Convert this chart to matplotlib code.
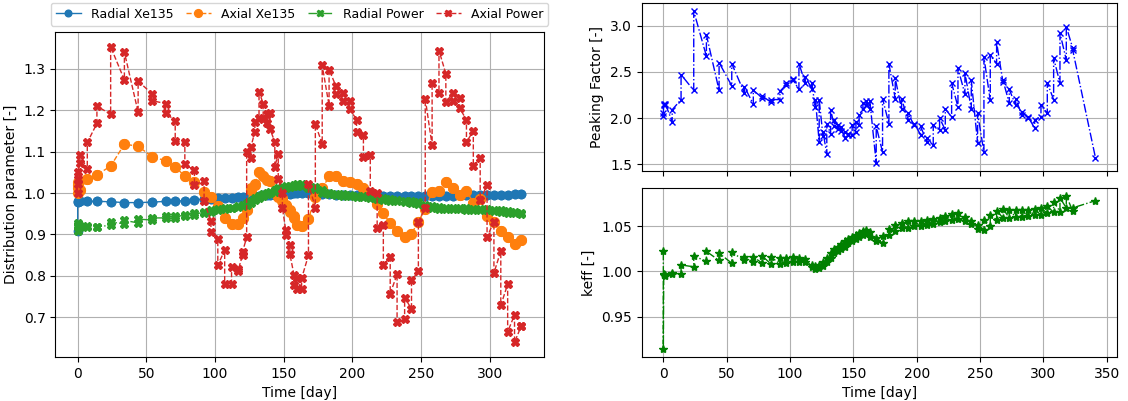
import numpy as np
import matplotlib.pyplot as plt

# burnup step times [day]; every step carries two values (start / end of step)
steps = [0, 0.3, 1.7, 7, 14, 24, 34, 44, 54, 64, 71, 78, 85, 92, 97, 102, 107, 112,
         117, 120, 123, 126, 129, 132, 135, 137.5, 140, 143.5, 146, 149, 152, 154.5,
         157.5, 160, 163, 168, 173, 178, 183, 188, 193, 198, 203, 208, 213, 218, 222.5,
         227.5, 232.5, 238, 243, 248, 253, 258, 263, 268, 273, 278, 283, 288, 293, 298,
         303, 308, 313, 318, 323]
last_day = 341

radial_xe = [(0.909, 0.979), (0.979, 0.980), (0.980, 0.980), (0.980, 0.980), (0.980, 0.980),
             (0.979, 0.979), (0.977, 0.977), (0.977, 0.977), (0.978, 0.978), (0.980, 0.980),
             (0.980, 0.980), (0.982, 0.982), (0.984, 0.984), (0.985, 0.985), (0.986, 0.986),
             (0.987, 0.987), (0.988, 0.988), (0.989, 0.989), (0.990, 0.990), (0.990, 0.990),
             (0.991, 0.991), (0.992, 0.992), (0.993, 0.993), (0.994, 0.994), (0.995, 0.995),
             (0.995, 0.995), (0.996, 0.996), (0.996, 0.996), (0.997, 0.997), (0.997, 0.997),
             (0.998, 0.998), (0.998, 0.998), (0.999, 0.999), (0.999, 0.999), (1.000, 1.000),
             (0.999, 0.999), (0.998, 0.998), (0.997, 0.997), (0.997, 0.997), (0.996, 0.996),
             (0.996, 0.996), (0.995, 0.995), (0.995, 0.995), (0.995, 0.995), (0.994, 0.994),
             (0.994, 0.994), (0.994, 0.994), (0.993, 0.993), (0.993, 0.993), (0.993, 0.993),
             (0.993, 0.993), (0.993, 0.993), (0.993, 0.993), (0.994, 0.994), (0.994, 0.994),
             (0.994, 0.994), (0.994, 0.994), (0.995, 0.995), (0.995, 0.995), (0.995, 0.995),
             (0.995, 0.995), (0.996, 0.996), (0.996, 0.996), (0.996, 0.996), (0.996, 0.996),
             (0.997, 0.997), (0.997, 0.997)]

axial_xe = [(1.000, 1.026), (1.020, 1.012), (1.007, 1.007), (1.035, 1.035), (1.044, 1.044),
            (1.065, 1.065), (1.118, 1.118), (1.113, 1.113), (1.088, 1.088), (1.078, 1.078),
            (1.064, 1.064), (1.040, 1.040), (1.026, 1.026), (1.002, 1.002), (0.991, 0.991),
            (0.969, 0.969), (0.939, 0.939), (0.925, 0.925), (0.926, 0.926), (0.941, 0.941),
            (0.959, 0.960), (1.011, 1.008), (1.023, 1.020), (1.052, 1.050), (1.040, 1.040),
            (1.031, 1.031), (1.030, 1.030), (1.005, 1.000), (0.995, 0.990), (0.987, 0.980),
            (0.971, 0.968), (0.959, 0.955), (0.944, 0.940), (0.924, 0.922), (0.921, 0.920),
            (0.937, 0.937), (0.991, 0.991), (1.011, 1.011), (1.040, 1.040), (1.040, 1.040),
            (1.030, 1.030), (1.027, 1.027), (1.023, 1.023), (1.011, 1.011), (1.000, 1.000),
            (0.973, 0.973), (0.951, 0.951), (0.927, 0.927), (0.909, 0.909), (0.894, 0.894),
            (0.902, 0.902), (0.931, 0.931), (0.962, 0.962), (1.002, 1.002), (1.005, 1.005),
            (1.027, 1.027), (1.013, 1.013), (0.995, 0.995), (1.005, 1.005), (0.977, 0.977),
            (0.985, 0.985), (0.945, 0.945), (0.930, 0.930), (0.908, 0.908), (0.895, 0.895),
            (0.877, 0.877), (0.886, 0.886)]

radial_power = [(0.909, 0.927), (0.920, 0.922), (0.918, 0.920), (0.918, 0.921), (0.918, 0.919),
                (0.922, 0.930), (0.926, 0.934), (0.928, 0.937), (0.935, 0.940), (0.940, 0.945),
                (0.941, 0.945), (0.945, 0.948), (0.948, 0.951), (0.952, 0.955), (0.955, 0.958),
                (0.958, 0.961), (0.961, 0.963), (0.963, 0.965), (0.966, 0.968), (0.968, 0.971),
                (0.972, 0.976), (0.977, 0.982), (0.983, 0.988), (0.989, 0.993), (0.994, 0.997),
                (0.997, 1.000), (1.000, 1.003), (1.003, 1.007), (1.007, 1.011), (1.010, 1.014),
                (1.012, 1.016), (1.014, 1.018), (1.016, 1.020), (1.017, 1.021), (1.017, 1.022),
                (1.013, 1.018), (1.010, 1.014), (1.000, 1.008), (0.997, 1.000), (0.995, 0.998),
                (0.994, 0.997), (0.992, 0.995), (0.991, 0.994), (0.990, 0.993), (0.988, 0.992),
                (0.986, 0.990), (0.984, 0.988), (0.982, 0.986), (0.980, 0.984), (0.978, 0.982),
                (0.976, 0.980), (0.974, 0.978), (0.966, 0.972), (0.964, 0.968), (0.962, 0.966),
                (0.962, 0.965), (0.961, 0.964), (0.961, 0.964), (0.960, 0.963), (0.959, 0.962),
                (0.959, 0.961), (0.958, 0.961), (0.957, 0.960), (0.955, 0.958), (0.953, 0.956),
                (0.951, 0.954), (0.950, 0.952)]

axial_power = [(1.000, 1.023), (1.035, 1.052), (1.073, 1.093), (1.057, 1.122), (1.168, 1.210),
               (1.190, 1.353), (1.273, 1.340), (1.195, 1.270), (1.240, 1.223), (1.216, 1.194),
               (1.174, 1.126), (1.122, 1.069), (1.055, 1.020), (1.029, 0.981), (0.932, 0.906),
               (0.890, 0.826), (0.862, 0.780), (0.780, 0.822), (0.811, 0.816), (0.850, 0.858),
               (0.893, 1.098), (1.084, 1.110), (1.148, 1.171), (1.180, 1.245), (1.216, 1.179),
               (1.190, 1.170), (1.193, 1.154), (1.124, 1.064), (1.094, 1.035), (0.999, 0.965),
               (0.898, 0.912), (0.874, 0.852), (0.802, 0.777), (0.768, 0.794), (0.768, 0.794),
               (0.850, 1.022), (0.965, 1.166), (1.119, 1.308), (1.211, 1.298), (1.258, 1.240),
               (1.241, 1.223), (1.221, 1.203), (1.177, 1.147), (1.140, 1.088), (1.092, 1.005),
               (0.999, 0.915), (0.924, 0.826), (0.846, 0.757), (0.804, 0.690), (0.696, 0.747),
               (0.721, 0.789), (0.811, 0.931), (0.963, 1.228), (1.115, 1.266), (1.241, 1.344),
               (1.288, 1.219), (1.241, 1.223), (1.229, 1.205), (1.177, 1.123), (1.150, 1.065),
               (1.084, 0.983), (1.019, 0.894), (0.931, 0.807), (0.860, 0.729), (0.780, 0.665),
               (0.706, 0.640), (0.680, 0.680)]

peaking = [(2.02, 2.05), (2.14, 2.15), (2.14, 2.15), (1.96, 2.09), (2.20, 2.47),
           (2.30, 3.16), (2.67, 2.90), (2.30, 2.60), (2.35, 2.59), (2.27, 2.34),
           (2.15, 2.30), (2.22, 2.24), (2.17, 2.20), (2.20, 2.29), (2.36, 2.38),
           (2.41, 2.42), (2.31, 2.59), (2.38, 2.45), (2.32, 2.38), (2.12, 2.20),
           (1.74, 2.20), (1.80, 1.85), (1.61, 1.94), (1.83, 2.09), (1.91, 1.98),
           (1.88, 1.92), (1.86, 1.90), (1.78, 1.85), (1.82, 1.83), (1.82, 1.92),
           (1.85, 1.96), (1.92, 2.03), (2.10, 2.16), (2.14, 2.18), (2.10, 2.18),
           (1.51, 1.91), (1.63, 2.21), (1.94, 2.59), (2.21, 2.43), (2.10, 2.21),
           (1.98, 2.05), (1.92, 1.94), (1.82, 1.91), (1.74, 1.78), (1.71, 1.92),
           (1.87, 2.00), (1.87, 2.10), (2.01, 2.38), (2.12, 2.54), (2.26, 2.49),
           (2.10, 2.41), (1.73, 2.05), (1.63, 2.66), (2.19, 2.68), (2.59, 2.82),
           (2.39, 2.41), (2.16, 2.31), (2.14, 2.21), (2.03, 2.07), (2.00, 2.01),
           (1.89, 1.98), (2.01, 2.14), (2.05, 2.38), (2.20, 2.65), (2.38, 2.92),
           (2.63, 2.99), (2.76, 2.74)]
peaking_last = 1.57

keff = [(1.022, 0.914), (0.996, 0.997), (0.995, 0.996), (0.997, 0.998), (0.997, 1.007),
        (1.005, 1.017), (1.011, 1.022), (1.012, 1.020), (1.009, 1.021), (1.012, 1.016),
        (1.010, 1.016), (1.009, 1.017), (1.008, 1.016), (1.008, 1.015), (1.009, 1.015),
        (1.010, 1.016), (1.010, 1.015), (1.010, 1.014), (1.005, 1.007), (1.003, 1.006),
        (1.004, 1.007), (1.006, 1.010), (1.010, 1.015), (1.015, 1.020), (1.020, 1.025),
        (1.022, 1.027), (1.025, 1.030), (1.027, 1.033), (1.031, 1.036), (1.033, 1.038),
        (1.036, 1.040), (1.038, 1.042), (1.040, 1.045), (1.042, 1.046), (1.038, 1.043),
        (1.034, 1.037), (1.031, 1.039), (1.040, 1.047), (1.045, 1.051), (1.048, 1.053),
        (1.048, 1.055), (1.050, 1.055), (1.050, 1.056), (1.051, 1.057), (1.052, 1.058),
        (1.054, 1.059), (1.055, 1.061), (1.057, 1.063), (1.058, 1.064), (1.056, 1.060),
        (1.052, 1.056), (1.047, 1.051), (1.046, 1.057), (1.050, 1.062), (1.057, 1.067),
        (1.059, 1.069), (1.059, 1.068), (1.060, 1.068), (1.060, 1.068), (1.061, 1.068),
        (1.062, 1.069), (1.062, 1.070), (1.064, 1.072), (1.065, 1.077), (1.066, 1.081),
        (1.070, 1.083), (1.067, 1.070)]
keff_last = 1.078

days = np.repeat(steps, 2)
days_r = np.append(days, last_day)

fig = plt.figure(figsize=(11.28, 4.01), dpi=100)

ax = fig.add_axes([0.0492, 0.1097, 0.4327, 0.8105])
ax.plot(days, np.ravel(radial_xe), "-o", color="tab:blue", lw=1, ms=6, label="Radial Xe135")
ax.plot(days, np.ravel(axial_xe), "--o", color="tab:orange", lw=1, ms=7, label="Axial Xe135")
ax.plot(days, np.ravel(radial_power), "-.X", color="tab:green", lw=1, ms=6, label="Radial Power")
ax.plot(days, np.ravel(axial_power), "--X", color="tab:red", lw=1, ms=6, label="Axial Power")
ax.set_xlabel("Time [day]")
ax.set_ylabel("Distribution parameter [-]")
ax.grid(True)
ax.legend(loc="lower center", bbox_to_anchor=(0.5, 1.0), ncol=4, fontsize=9,
          columnspacing=1.0, markerscale=0.8)

ax1 = fig.add_axes([0.5689, 0.574, 0.4214, 0.4175])
ax2 = fig.add_axes([0.5689, 0.110, 0.4214, 0.42], sharex=ax1)

ax1.plot(days_r, np.append(np.ravel(peaking), peaking_last), "bx-.", lw=1, ms=5)
ax1.set_ylabel("Peaking Factor [-]")
ax1.grid(True)
ax1.tick_params(labelbottom=False)

ax2.plot(days_r, np.append(np.ravel(keff), keff_last), "g*-.", lw=1, ms=6)
ax2.set_ylabel("keff [-]")
ax2.set_xlabel("Time [day]")
ax2.grid(True)

plt.savefig("out.png")
